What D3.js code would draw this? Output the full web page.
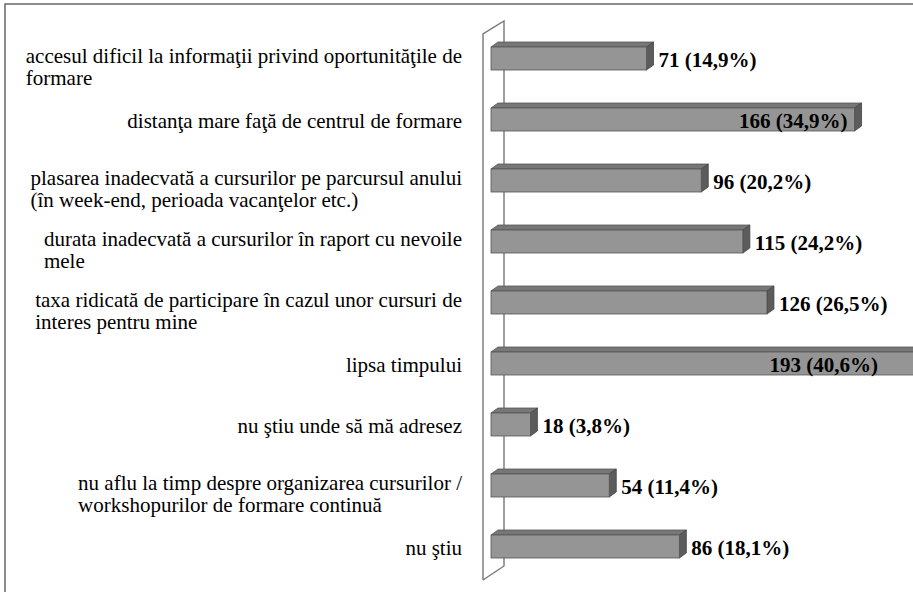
<!DOCTYPE html>
<html><head><meta charset="utf-8">
<script src="https://cdn.jsdelivr.net/npm/d3@7/dist/d3.min.js"></script>
</head><body style="margin:0">
<svg id="c" width="913" height="592"></svg>
<script>
const categories = [
  "accesul dificil la informaţii privind oportunităţile de\nformare",
  "distanţa mare faţă de centrul de formare",
  "plasarea inadecvată a cursurilor pe parcursul anului\n(în week-end, perioada vacanţelor etc.)",
  "durata inadecvată a cursurilor în raport cu nevoile\nmele",
  "taxa ridicată de participare în cazul unor cursuri de\ninteres pentru mine",
  "lipsa timpului",
  "nu ştiu unde să mă adresez",
  "nu aflu la timp despre organizarea cursurilor /\nworkshopurilor de formare continuă",
  "nu ştiu"
];
const counts = [71, 166, 96, 115, 126, 193, 18, 54, 86];
const percents = [14.9, 34.9, 20.2, 24.2, 26.5, 40.6, 3.8, 11.4, 18.1];
const insideLabel = [false, true, false, false, false, true, false, false, false];

const F = '"Liberation Serif"';
const svg = d3.select("#c");

// outer frame
svg.append("rect").attr("x", 5).attr("y", 4).attr("width", 940).attr("height", 640)
  .attr("fill", "none").attr("stroke", "#666").attr("stroke-width", 1.5);

const x = d3.scaleLinear().domain([0, 200]).range([491, 929]);
const y = d3.scalePoint().domain(d3.range(categories.length)).range([58.5, 546.5]);
const barH = 23, dx = 7, dy = 5;

// back wall of the 3D chart
svg.append("path").attr("d", "M483,580 L483,34 L504,21 L504,566 L483,580")
  .attr("fill", "none").attr("stroke", "#777").attr("stroke-width", 1.4);

categories.forEach((c, i) => {
  const x0 = x(0), x1 = x(counts[i]), yt = y(i) - barH / 2, yb = y(i) + barH / 2;
  svg.append("path").attr("d", `M${x0},${yt} L${x0 + dx},${yt - dy} L${x1 + dx},${yt - dy} L${x1},${yt} Z`)
    .attr("fill", "#777").attr("stroke", "#555").attr("stroke-width", 0.8);
  svg.append("path").attr("d", `M${x1},${yt} L${x1 + dx},${yt - dy} L${x1 + dx},${yb - dy} L${x1},${yb} Z`)
    .attr("fill", "#5c5c5c").attr("stroke", "#444").attr("stroke-width", 0.8);
  svg.append("rect").attr("x", x0).attr("y", yt).attr("width", x1 - x0).attr("height", barH)
    .attr("fill", "#959595").attr("stroke", "#555").attr("stroke-width", 0.8);
});

// value labels
const fmt = p => p.toFixed(1).replace(".", ",") + "%";
categories.forEach((c, i) => {
  const t = svg.append("text").attr("font-size", 21).attr("font-weight", "bold")
    .style("font-family", F).attr("y", y(i) + 8)
    .text(`${counts[i]} (${fmt(percents[i])})`);
  if (insideLabel[i]) t.attr("text-anchor", "end").attr("x", Math.min(x(counts[i]) - 7, 878));
  else t.attr("text-anchor", "start").attr("x", x(counts[i]) + 12);
});

// category labels (left-aligned block, right-aligned to the axis)
const labelRight = 462, lineH = 22.5;
categories.forEach((c, i) => {
  const lines = c.split("\n");
  const texts = lines.map((ln, k) => svg.append("text").attr("font-size", 21)
    .style("font-family", F)
    .attr("y", (lines.length > 1 ? y(i) - 3 + k * lineH : y(i) + 1) + 7).text(ln));
  const maxW = d3.max(texts, t => t.node().getComputedTextLength());
  texts.forEach(t => t.attr("x", labelRight - maxW));
});
</script>
</body></html>
